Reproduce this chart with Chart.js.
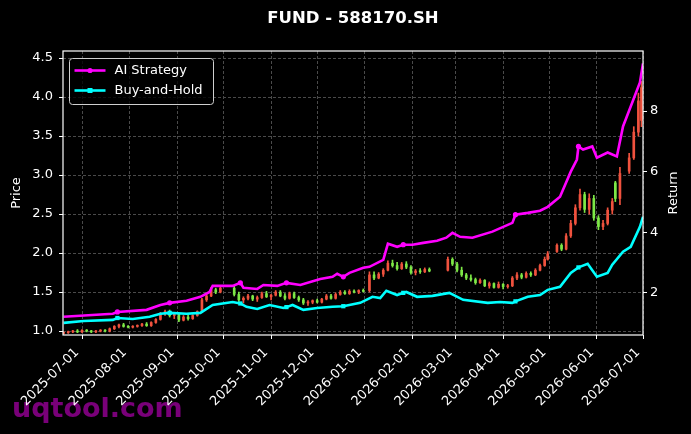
<!DOCTYPE html>
<html>
<head>
<meta charset="utf-8">
<title>FUND - 588170.SH</title>
<script src="https://cdn.jsdelivr.net/npm/chart.js@4.4.1/dist/chart.umd.min.js"></script>
<style>
  html, body { margin: 0; padding: 0; background: #000; }
  #wrap { width: 691px; height: 434px; }
</style>
</head>
<body>
<div id="wrap"><canvas id="fundChart" width="691" height="434"></canvas></div>
<script>
// -----------------------------
// Data (x = days since 2025-07-01)
// -----------------------------
const chartTitle = "FUND - 588170.SH";
const watermark = "uqtool.com";

const tickDays = [0, 31, 62, 92, 123, 153, 184, 215, 243, 274, 304, 335, 365];
const tickLabels = ["2025-07-01", "2025-08-01", "2025-09-01", "2025-10-01", "2025-11-01", "2025-12-01",
  "2026-01-01", "2026-02-01", "2026-03-01", "2026-04-01", "2026-05-01", "2026-06-01", "2026-07-01"];

const candleDays = [-12, -9, -6, -3, 0, 3, 6, 9, 12, 15, 18, 21, 24, 27, 30, 33, 36, 39, 42, 45, 48,
  51, 54, 57, 60, 63, 66, 69, 72, 75, 78, 81, 84, 87, 90, 99, 102, 105, 108, 111, 114,
  117, 120, 123, 126, 129, 132, 135, 138, 141, 144, 147, 150, 153, 156, 159, 162, 165, 168, 171, 174, 177, 180, 183,
  187, 190, 193, 196, 199, 202, 205, 208, 211, 214, 217, 220, 223, 226,
  238, 241, 244, 247, 250, 253, 256, 259, 262, 265, 268, 271, 274, 277, 280, 283, 286, 289, 292, 295, 298, 301, 303,
  309, 312, 315, 318, 321, 324, 327, 330, 333, 336, 339, 342, 345, 347, 350, 356, 359, 362, 364];
const candleOpen = [0.97, 0.98, 0.99, 1.00, 0.99, 1.01, 1.00, 0.99, 1.00, 1.01, 1.00, 1.03, 1.06, 1.08, 1.06, 1.05, 1.06, 1.07, 1.09, 1.07, 1.11,
  1.15, 1.22, 1.25, 1.20, 1.22, 1.14, 1.18, 1.16, 1.20, 1.25, 1.40, 1.45, 1.53, 1.50, 1.55, 1.47, 1.40, 1.42, 1.45, 1.41,
  1.43, 1.48, 1.44, 1.46, 1.50, 1.45, 1.42, 1.48, 1.43, 1.40, 1.36, 1.37, 1.39, 1.37, 1.41, 1.45, 1.42, 1.47, 1.50, 1.48, 1.51, 1.50, 1.52,
  1.52, 1.72, 1.68, 1.73, 1.78, 1.87, 1.84, 1.80, 1.86, 1.82, 1.75, 1.77, 1.76, 1.79,
  1.78, 1.92, 1.86, 1.78, 1.72, 1.68, 1.66, 1.62, 1.65, 1.58, 1.61, 1.56, 1.60, 1.57, 1.58, 1.68, 1.72, 1.69, 1.74, 1.72, 1.78, 1.84, 1.92,
  2.02, 2.10, 2.05, 2.22, 2.38, 2.58, 2.75, 2.56, 2.70, 2.45, 2.34, 2.38, 2.55, 2.90, 2.70, 3.05, 3.22, 3.55, 3.70];
const candleHigh = [0.99, 1.00, 1.01, 1.02, 1.02, 1.02, 1.01, 1.01, 1.02, 1.02, 1.04, 1.07, 1.09, 1.10, 1.07, 1.07, 1.08, 1.10, 1.11, 1.12, 1.16,
  1.24, 1.27, 1.27, 1.24, 1.23, 1.20, 1.21, 1.21, 1.26, 1.42, 1.47, 1.56, 1.55, 1.58, 1.58, 1.50, 1.44, 1.47, 1.46, 1.45,
  1.50, 1.51, 1.47, 1.52, 1.52, 1.48, 1.50, 1.50, 1.45, 1.42, 1.39, 1.40, 1.41, 1.42, 1.47, 1.47, 1.49, 1.52, 1.52, 1.53, 1.53, 1.53, 1.54,
  1.76, 1.76, 1.75, 1.80, 1.90, 1.91, 1.88, 1.88, 1.89, 1.84, 1.79, 1.80, 1.81, 1.81,
  1.95, 1.94, 1.88, 1.82, 1.74, 1.72, 1.68, 1.67, 1.66, 1.63, 1.62, 1.63, 1.61, 1.60, 1.70, 1.75, 1.74, 1.76, 1.76, 1.80, 1.86, 1.95, 2.02,
  2.12, 2.12, 2.25, 2.42, 2.62, 2.82, 2.78, 2.76, 2.74, 2.48, 2.42, 2.58, 2.70, 2.92, 3.10, 3.28, 3.62, 4.05, 4.20];
const candleLow = [0.96, 0.97, 0.98, 0.98, 0.98, 0.99, 0.98, 0.98, 0.99, 0.99, 0.99, 1.02, 1.04, 1.05, 1.04, 1.04, 1.05, 1.06, 1.06, 1.06, 1.10,
  1.14, 1.20, 1.18, 1.16, 1.12, 1.13, 1.14, 1.15, 1.19, 1.24, 1.38, 1.44, 1.48, 1.49, 1.45, 1.38, 1.36, 1.40, 1.39, 1.38,
  1.42, 1.43, 1.40, 1.45, 1.44, 1.40, 1.41, 1.42, 1.38, 1.34, 1.33, 1.35, 1.36, 1.36, 1.40, 1.41, 1.41, 1.46, 1.47, 1.47, 1.49, 1.48, 1.50,
  1.50, 1.66, 1.67, 1.70, 1.77, 1.82, 1.78, 1.79, 1.80, 1.73, 1.72, 1.74, 1.75, 1.76,
  1.77, 1.84, 1.76, 1.70, 1.66, 1.64, 1.60, 1.61, 1.57, 1.55, 1.55, 1.55, 1.54, 1.55, 1.57, 1.66, 1.67, 1.68, 1.70, 1.71, 1.77, 1.83, 1.91,
  2.01, 2.03, 2.04, 2.20, 2.36, 2.55, 2.52, 2.50, 2.42, 2.30, 2.30, 2.36, 2.50, 2.66, 2.62, 3.02, 3.20, 3.50, 3.62];
const candleClose = [0.98, 0.99, 1.00, 0.99, 1.01, 1.00, 0.99, 1.00, 1.01, 1.00, 1.03, 1.06, 1.08, 1.06, 1.05, 1.06, 1.07, 1.09, 1.07, 1.11, 1.15,
  1.22, 1.25, 1.20, 1.22, 1.14, 1.18, 1.16, 1.20, 1.25, 1.40, 1.45, 1.53, 1.50, 1.55, 1.47, 1.40, 1.42, 1.45, 1.41, 1.43,
  1.48, 1.44, 1.46, 1.50, 1.45, 1.42, 1.48, 1.43, 1.40, 1.36, 1.37, 1.39, 1.37, 1.41, 1.45, 1.42, 1.47, 1.50, 1.48, 1.51, 1.50, 1.52, 1.51,
  1.72, 1.68, 1.73, 1.78, 1.87, 1.84, 1.80, 1.86, 1.82, 1.75, 1.77, 1.76, 1.79, 1.77,
  1.92, 1.86, 1.78, 1.72, 1.68, 1.66, 1.62, 1.65, 1.58, 1.61, 1.56, 1.60, 1.57, 1.58, 1.68, 1.72, 1.69, 1.74, 1.72, 1.78, 1.84, 1.92, 1.99,
  2.10, 2.05, 2.22, 2.38, 2.58, 2.75, 2.56, 2.70, 2.45, 2.34, 2.38, 2.55, 2.66, 2.70, 3.02, 3.22, 3.55, 3.95, 4.12];

const stratDays = [-12, 20, 23, 42, 51, 57, 68, 77, 83, 85, 98, 103, 105, 114, 118, 127, 133, 142, 155, 163, 166, 170, 174,
  183, 187, 196, 199, 205, 209, 215, 222, 231, 237, 241, 246, 254, 267, 280, 282, 290, 298, 303, 311, 318, 322, 323,
  326, 332, 335, 342, 348, 352, 358, 363, 365];
const stratReturn = [1.21, 1.31, 1.37, 1.44, 1.60, 1.67, 1.74, 1.87, 2.03, 2.23, 2.23, 2.33, 2.17, 2.13, 2.26, 2.23, 2.33, 2.26, 2.46, 2.53, 2.63, 2.53, 2.66,
  2.83, 2.86, 3.09, 3.62, 3.52, 3.59, 3.59, 3.65, 3.72, 3.82, 3.98, 3.85, 3.82, 4.02, 4.31, 4.58, 4.64, 4.71, 4.84, 5.17, 6.00, 6.40, 6.83,
  6.73, 6.83, 6.46, 6.63, 6.50, 7.49, 8.28, 8.94, 9.57];

const holdDays = [-12, 1, 20, 23, 33, 44, 51, 57, 68, 77, 85, 98, 103, 107, 114, 122, 131, 133, 137, 144, 153, 163, 170,
  181, 189, 194, 198, 205, 209, 211, 218, 228, 239, 248, 264, 272, 280, 282, 290, 298, 303, 311, 318, 323, 329,
  335, 342, 345, 352, 357, 363, 365];
const holdReturn = [1.01, 1.07, 1.11, 1.17, 1.14, 1.21, 1.31, 1.34, 1.31, 1.34, 1.60, 1.70, 1.65, 1.54, 1.47, 1.60, 1.50, 1.53, 1.60, 1.44, 1.50, 1.54, 1.56,
  1.67, 1.87, 1.83, 2.07, 1.93, 2.00, 2.03, 1.87, 1.90, 2.00, 1.77, 1.67, 1.70, 1.67, 1.72, 1.87, 1.93, 2.10, 2.20, 2.66, 2.84, 2.96,
  2.53, 2.66, 2.93, 3.36, 3.52, 4.18, 4.51];

// days where trades happened (marked on the lines)
const tradeDays = [23, 57, 103, 133, 170, 209, 282, 323];

// -----------------------------
// Styles
// -----------------------------
const UP = "rgb(240,82,62)";
const DOWN = "rgb(125,232,70)";
const MAGENTA = "#ff00ff";
const CYAN = "#00ffff";
const GRID = "#4a4a4a";
const FONT = '"DejaVu Sans", sans-serif';

Chart.defaults.font.family = FONT;
Chart.defaults.font.size = 13;
Chart.defaults.color = "#ffffff";

const candleColors = candleOpen.map((o, i) => (candleClose[i] >= o ? UP : DOWN));

// -----------------------------
// Plugins: background/watermark, frame, legend, right title
// -----------------------------
const backdrop = {
  id: "backdrop",
  beforeDraw(chart) {
    const ctx = chart.ctx;
    ctx.save();
    ctx.fillStyle = "#000";
    ctx.fillRect(0, 0, chart.width, chart.height);
    ctx.font = 'bold 27px "DejaVu Sans"';
    ctx.fillStyle = "rgba(128,0,128,0.95)";
    ctx.textBaseline = "alphabetic";
    ctx.textAlign = "left";
    ctx.fillText(watermark, 12, 417);
    ctx.restore();
  }
};

const decorations = {
  id: "decorations",
  afterDraw(chart) {
    const ctx = chart.ctx;
    const a = chart.chartArea;
    ctx.save();
    // frame
    ctx.strokeStyle = "#ffffff";
    ctx.lineWidth = 1.2;
    ctx.strokeRect(a.left, a.top, a.right - a.left, a.bottom - a.top);

    // legend
    const lx = a.left + 6.5, ly = a.top + 7.5, lw = 144, lh = 46;
    ctx.beginPath();
    ctx.roundRect(lx, ly, lw, lh, 3);
    ctx.fillStyle = "rgba(0,0,0,0.8)";
    ctx.fill();
    ctx.strokeStyle = "#cfcfcf";
    ctx.lineWidth = 1;
    ctx.stroke();
    const items = chart.data.datasets.filter(ds => ds.type === "line");
    items.forEach((ds, i) => {
      const y = ly + 12 + i * 20;
      ctx.strokeStyle = ds.borderColor;
      ctx.lineWidth = 2.6;
      ctx.beginPath();
      ctx.moveTo(lx + 5, y);
      ctx.lineTo(lx + 36, y);
      ctx.stroke();
      ctx.fillStyle = ds.borderColor;
      if (ds.pointStyle === "rect") {
        ctx.fillRect(lx + 18, y - 2.5, 5, 5);
      } else {
        ctx.beginPath();
        ctx.arc(lx + 20.5, y, 2.6, 0, Math.PI * 2);
        ctx.fill();
      }
      ctx.fillStyle = "#ffffff";
      ctx.font = '13px "DejaVu Sans"';
      ctx.textBaseline = "middle";
      ctx.textAlign = "left";
      ctx.fillText(ds.label, lx + 45, y);
    });

    // right axis title
    ctx.translate(674, (a.top + a.bottom) / 2);
    ctx.rotate(-Math.PI / 2);
    ctx.textAlign = "center";
    ctx.textBaseline = "middle";
    ctx.font = '13px "DejaVu Sans"';
    ctx.fillStyle = "#ffffff";
    ctx.fillText("Return", 0, 0);
    ctx.restore();
  }
};

// -----------------------------
// Chart
// -----------------------------
const ctx = document.getElementById("fundChart").getContext("2d");

new Chart(ctx, {
  type: "bar",
  data: {
    datasets: [
      {
        type: "line",
        label: "AI Strategy",
        data: stratDays.map((d, i) => ({ x: d, y: stratReturn[i] })),
        yAxisID: "y2",
        borderColor: MAGENTA,
        backgroundColor: MAGENTA,
        borderWidth: 2.6,
        pointStyle: "circle",
        pointRadius: c => (tradeDays.includes(stratDays[c.dataIndex]) ? 2.6 : 0),
        pointBorderWidth: 0,
        tension: 0,
        order: 0
      },
      {
        type: "line",
        label: "Buy-and-Hold",
        data: holdDays.map((d, i) => ({ x: d, y: holdReturn[i] })),
        yAxisID: "y2",
        borderColor: CYAN,
        backgroundColor: CYAN,
        borderWidth: 2.6,
        pointStyle: "rect",
        pointRadius: c => (tradeDays.includes(holdDays[c.dataIndex]) ? 3 : 0),
        pointBorderWidth: 0,
        tension: 0,
        order: 0
      },
      {
        type: "bar",
        label: "body",
        data: candleDays.map((d, i) => ({ x: d, y: [candleOpen[i], candleClose[i]] })),
        yAxisID: "y",
        backgroundColor: candleColors,
        barThickness: 2,
        minBarLength: 1,
        grouped: false,
        borderWidth: 0,
        order: 1
      },
      {
        type: "bar",
        label: "wick",
        data: candleDays.map((d, i) => ({ x: d, y: [candleLow[i], candleHigh[i]] })),
        yAxisID: "y",
        backgroundColor: candleColors,
        barThickness: 1,
        grouped: false,
        borderWidth: 0,
        order: 2
      }
    ]
  },
  options: {
    responsive: false,
    animation: false,
    layout: { padding: 0 },
    plugins: {
      legend: { display: false },
      tooltip: { enabled: false },
      title: {
        display: true,
        text: chartTitle,
        color: "#ffffff",
        fullSize: false,
        font: { family: FONT, size: 16.5, weight: "bold" },
        padding: { top: 9, bottom: 22.2 }
      }
    },
    scales: {
      x: {
        type: "linear",
        min: -12.4,
        max: 365,
        offset: false,
        grid: { offset: false, color: GRID, tickColor: "#ffffff", tickLength: 4, tickWidth: 1 },
        border: { display: false, dash: [3, 2] },
        afterBuildTicks: scale => { scale.ticks = tickDays.map(v => ({ value: v })); },
        afterFit: scale => { scale.height = 99; },
        ticks: {
          autoSkip: false,
          minRotation: 45,
          maxRotation: 45,
          padding: 6,
          labelOffset: -5,
          color: "#ffffff",
          font: { family: FONT, size: 13 },
          callback: (value, index) => tickLabels[index]
        }
      },
      y: {
        type: "linear",
        position: "left",
        min: 0.95,
        max: 4.59,
        grid: { color: GRID, tickColor: "#ffffff", tickLength: 4, tickWidth: 1 },
        border: { display: false, dash: [3, 2] },
        afterFit: scale => { scale.width = 63; },
        title: { display: true, text: "Price", color: "#ffffff", padding: 9, font: { family: FONT, size: 13 } },
        ticks: {
          stepSize: 0.5,
          includeBounds: false,
          padding: 6,
          color: "#ffffff",
          font: { family: FONT, size: 13 },
          callback: v => v.toFixed(1)
        }
      },
      y2: {
        type: "linear",
        position: "right",
        min: 0.61,
        max: 9.98,
        grid: { drawOnChartArea: false, color: GRID, tickColor: "#ffffff", tickLength: 4, tickWidth: 1 },
        border: { display: false },
        afterFit: scale => { scale.width = 48; },
        ticks: {
          stepSize: 2,
          includeBounds: false,
          padding: 3,
          color: "#ffffff",
          font: { family: FONT, size: 13 },
          callback: v => String(v)
        }
      }
    }
  },
  plugins: [backdrop, decorations]
});
</script>
</body>
</html>
